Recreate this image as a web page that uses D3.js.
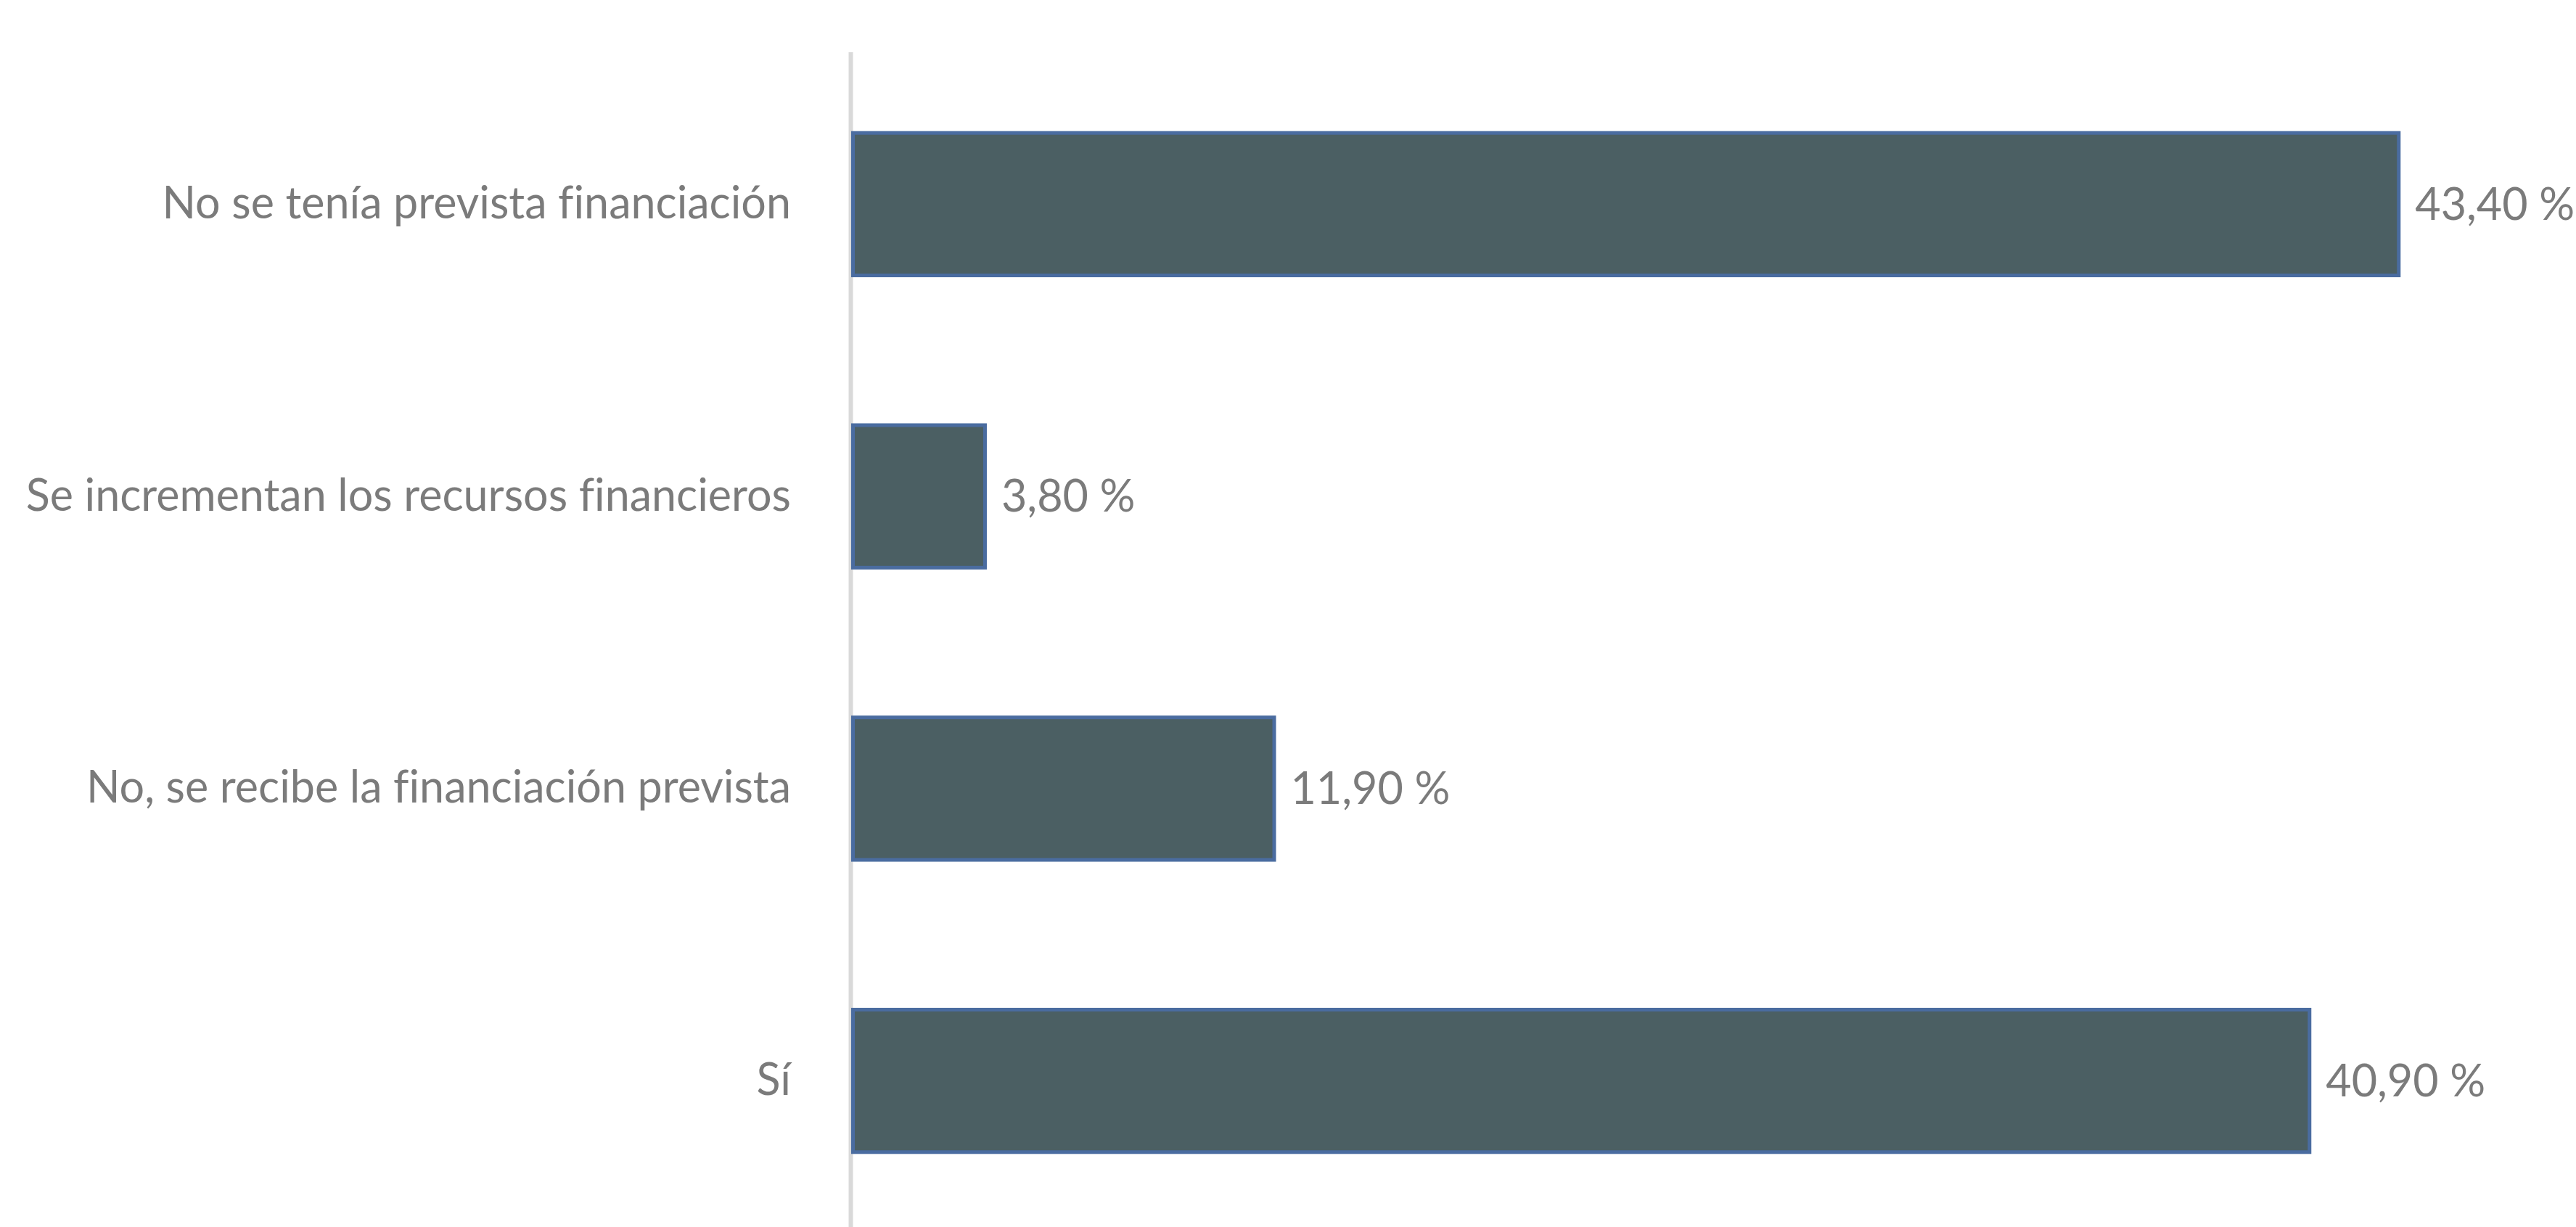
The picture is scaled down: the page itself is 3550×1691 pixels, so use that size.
<!DOCTYPE html>
<html>
<head>
<meta charset="utf-8">
<script src="https://cdn.jsdelivr.net/npm/d3@7"></script>
<style>
  html, body { margin: 0; padding: 0; background: #ffffff; }
  svg { display: block; }
  text { font-variant-ligatures: none; }
</style>
</head>
<body>
<script>
const categories = [
  "No se tenía prevista financiación",
  "Se incrementan los recursos financieros",
  "No, se recibe la financiación prevista",
  "Sí"
];
const values = [43.4, 3.8, 11.9, 40.9];
const valueLabels = ["43,40 %", "3,80 %", "11,90 %", "40,90 %"];

const W = 3550, H = 1691;
const FONT = "Lato, 'Noto Sans', sans-serif";
const TEXT_COLOR = "#7b7b7b";

const svg = d3.select("body").append("svg")
  .attr("width", W).attr("height", H);

const x = d3.scaleLinear().domain([0, 45]).range([1173, 3387]);
const y = d3.scaleBand().domain(categories).range([80, 1691])
  .paddingInner(0.5).paddingOuter(0.25);

// axis line (vertical)
svg.append("line")
  .attr("x1", x(0) - 0.5).attr("x2", x(0) - 0.5)
  .attr("y1", 72).attr("y2", H)
  .attr("stroke", "#d9d9d9").attr("stroke-width", 6);

// category labels via axis
const yAxis = d3.axisLeft(y).tickSize(0).tickPadding(83);
const gAxis = svg.append("g")
  .attr("transform", `translate(${x(0)},0)`)
  .call(yAxis);
gAxis.select(".domain").remove();
gAxis.selectAll("text")
  .attr("font-family", FONT)
  .attr("font-size", 61)
  .attr("fill", TEXT_COLOR);

const data = categories.map((c, i) => ({ c, v: values[i], label: valueLabels[i] }));

svg.append("g").selectAll("rect").data(data).join("rect")
  .attr("x", x(0) + 2.5)
  .attr("y", d => y(d.c) + 2.5)
  .attr("width", d => x(d.v) - x(0) - 5)
  .attr("height", y.bandwidth() - 5)
  .attr("fill", "#4b5f63")
  .attr("stroke", "#4a6ca0")
  .attr("stroke-width", 5);

svg.append("g").selectAll("text").data(data).join("text")
  .attr("x", d => x(d.v) + 20)
  .attr("y", d => y(d.c) + y.bandwidth() / 2)
  .attr("dy", "0.35em")
  .attr("font-family", FONT)
  .attr("font-size", 61)
  .attr("fill", TEXT_COLOR)
  .text(d => d.label);
</script>
</body>
</html>
